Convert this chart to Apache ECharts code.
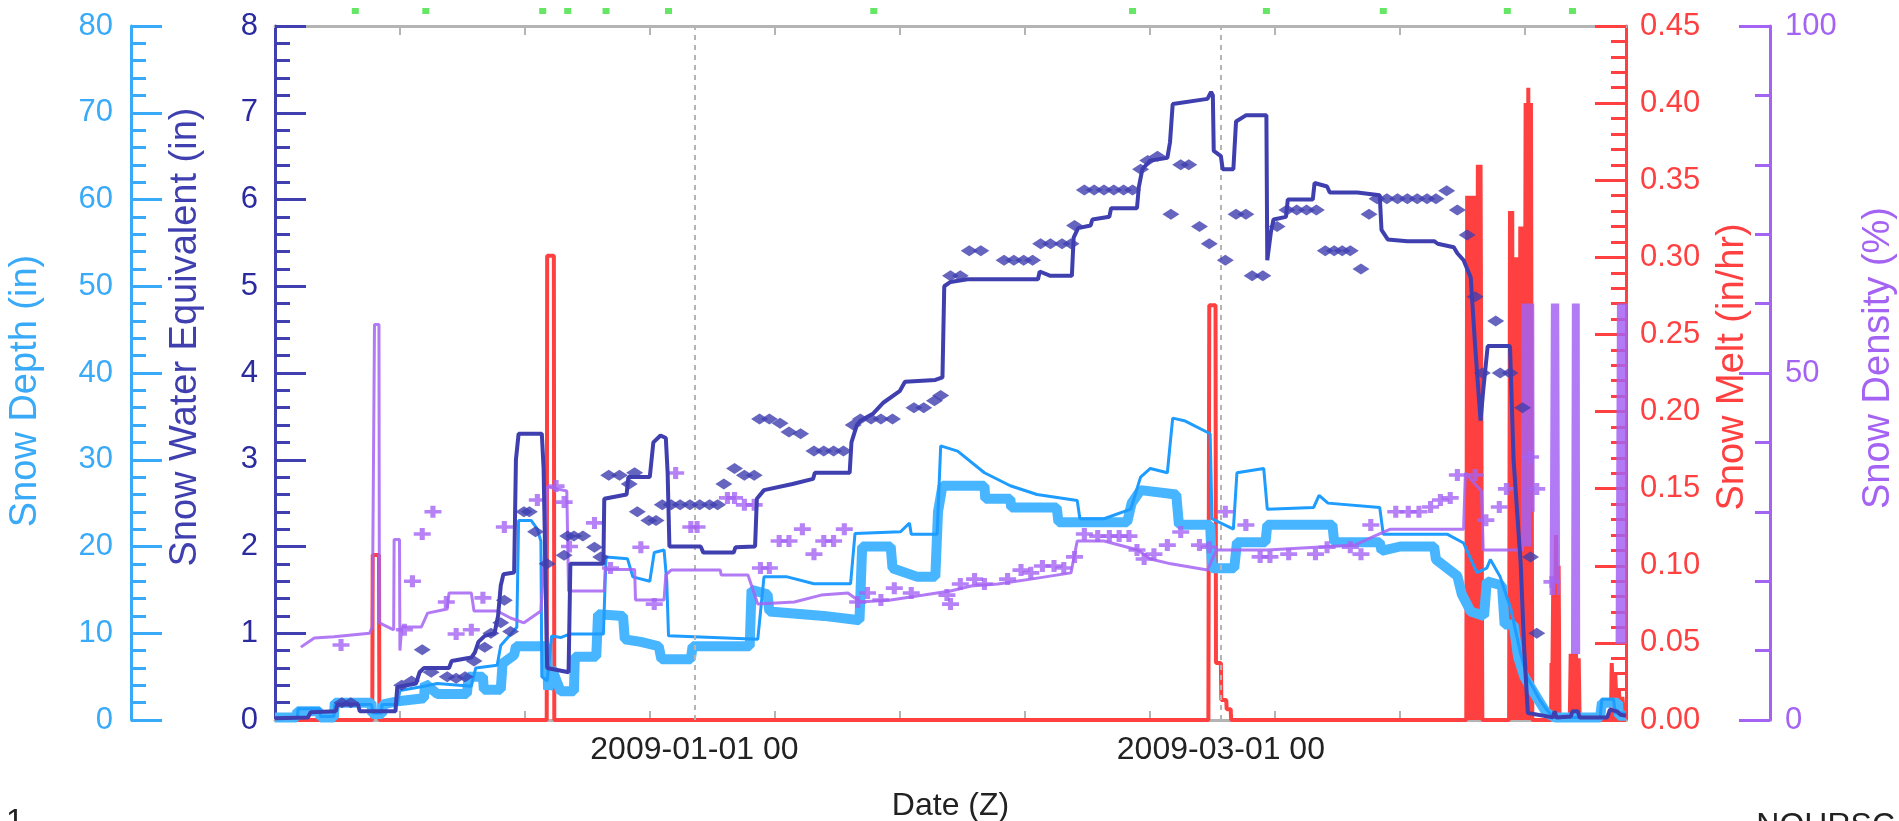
<!DOCTYPE html>
<html>
<head>
<meta charset="utf-8">
<title>Snow station</title>
<script src="https://cdn.jsdelivr.net/npm/echarts@6.0.0/dist/echarts.min.js"></script>
<style>
  html, body { margin: 0; padding: 0; background: #fff; }
  #chart { width: 1899px; height: 821px; }
</style>
</head>
<body>
<div id="chart"></div>
<script>
// time is in days since 2008-11-15 00Z
var xTickDays = [14, 28, 42, 56, 70, 84, 98, 112, 126, 140]
var xLabelDays = [47, 106]
var xLabels = ['2009-01-01 00', '2009-03-01 00']

// snow water equivalent (in), hourly sensor
var sweLine = [[0,0.02],[3.7,0.03],[4.0,0.09],[6.8,0.1],[7.0,0.18],[9.3,0.18],[9.5,0.1],[13.5,0.1],[13.7,0.38],[15.8,0.42],[16.2,0.55],[16.7,0.6],[19.5,0.6],[19.8,0.68],[22.0,0.72],[22.4,0.78],[22.8,0.9],[23.5,0.97],[24.6,1.0],[25.0,1.2],[25.3,1.55],[25.6,1.68],[26.8,1.7],[27.0,3.0],[27.3,3.3],[29.9,3.3],[30.1,2.9],[30.5,0.6],[32.9,0.55],[33.1,1.8],[36.8,1.8],[36.9,2.55],[39.4,2.6],[39.6,2.8],[42.0,2.8],[42.4,3.2],[43.2,3.28],[43.8,3.25],[44.0,2.85],[44.2,2.0],[47.7,2.0],[48.0,1.93],[51.4,1.93],[51.6,1.99],[53.8,2.0],[54.0,2.55],[54.8,2.65],[58.0,2.72],[60.3,2.78],[60.5,2.85],[64.4,2.85],[64.6,3.2],[65.2,3.4],[65.6,3.45],[67.0,3.53],[68.2,3.66],[70.0,3.79],[70.6,3.9],[74.0,3.92],[74.8,3.95],[75.0,5.0],[75.7,5.05],[77.6,5.08],[85.5,5.08],[85.7,5.17],[86.9,5.12],[89.3,5.12],[89.5,5.56],[90.0,5.67],[91.4,5.7],[91.6,5.77],[93.5,5.8],[93.7,5.9],[96.6,5.9],[96.8,6.14],[97.2,6.35],[98.1,6.45],[100.0,6.48],[100.3,6.66],[100.6,7.1],[104.5,7.16],[104.9,7.24],[105.1,7.2],[105.2,6.56],[106.0,6.5],[106.2,6.35],[107.4,6.35],[107.7,6.9],[108.8,6.97],[111.1,6.97],[111.2,5.3],[111.6,5.62],[111.9,5.77],[113.3,5.8],[113.5,6.0],[116.3,6.0],[116.5,6.19],[117.9,6.15],[118.2,6.08],[121.3,6.08],[123.8,6.05],[124.0,5.65],[124.7,5.54],[126.9,5.52],[129.9,5.52],[130.3,5.49],[132.1,5.45],[132.5,5.38],[133.2,5.3],[134.0,5.1],[134.5,4.3],[135.1,3.45],[135.4,3.8],[135.9,4.31],[138.4,4.31],[138.8,3.0],[139.6,1.8],[140.0,0.8],[140.4,0.08],[143.2,0.03],[143.4,0.1],[143.6,0.03],[145.2,0.04],[145.4,0.1],[146.0,0.1],[146.2,0.03],[149.3,0.03],[149.6,0.12],[150.4,0.1],[150.8,0.06],[151.4,0.05]]

// snow water equivalent (in), daily observation
var sweObs = [[7.5,0.2],[8.5,0.2],[14.2,0.4],[15.3,0.45],[16.5,0.81],[17.5,0.55],[19.3,0.5],[20.3,0.48],[21.3,0.5],[22.3,0.68],[23.5,0.84],[24.2,1.0],[25.3,1.12],[25.7,1.38],[26.4,1.02],[27.9,2.4],[28.5,2.4],[29.2,2.17],[30.5,1.8],[32.4,1.9],[32.8,2.12],[33.5,2.12],[34.5,2.12],[35.8,1.99],[36.5,1.88],[37.4,2.82],[38.6,2.82],[39.7,2.72],[40.3,2.85],[40.6,2.4],[41.9,2.3],[42.7,2.3],[43.4,2.48],[44.4,2.48],[45.4,2.48],[46.5,2.48],[47.6,2.48],[48.7,2.48],[49.6,2.48],[50.3,2.72],[51.5,2.9],[52.6,2.82],[53.7,2.82],[54.3,3.47],[55.4,3.47],[56.6,3.42],[57.6,3.32],[58.9,3.3],[60.4,3.1],[61.5,3.1],[62.6,3.1],[63.7,3.1],[64.8,3.4],[65.6,3.47],[66.8,3.47],[67.9,3.47],[69.2,3.47],[71.6,3.6],[72.7,3.6],[73.9,3.68],[74.6,3.74],[75.7,5.12],[76.8,5.12],[77.8,5.41],[79.1,5.41],[81.7,5.3],[82.8,5.3],[83.9,5.3],[84.9,5.3],[85.8,5.49],[86.9,5.49],[88.2,5.49],[89.2,5.49],[89.6,5.7],[90.7,6.11],[91.8,6.11],[92.9,6.11],[94.0,6.11],[95.1,6.11],[96.1,6.11],[97.0,6.35],[97.8,6.45],[98.9,6.5],[100.4,5.83],[101.5,6.4],[102.4,6.4],[103.6,5.69],[104.7,5.49],[106.5,5.3],[107.7,5.83],[108.8,5.83],[109.5,5.12],[110.7,5.12],[112.3,5.69],[113.4,5.88],[114.5,5.88],[115.6,5.88],[116.7,5.88],[117.7,5.41],[118.7,5.41],[119.6,5.41],[120.5,5.41],[121.7,5.2],[122.6,5.83],[123.5,6.01],[124.6,6.01],[125.8,6.01],[126.9,6.01],[128.0,6.01],[129.1,6.01],[130.1,6.01],[131.3,6.1],[132.5,5.88],[133.6,5.59],[134.5,4.88],[135.3,4.0],[136.8,4.6],[137.3,4.0],[138.4,4.0],[139.8,3.6],[140.7,1.88],[141.4,1.0]]

// snow depth (in), thin sensor trace
var sdLine = [[0,0.2],[2.5,0.3],[2.6,1.3],[5.0,1.3],[5.1,0.4],[6.6,0.4],[6.7,1.8],[10.8,1.8],[11.0,0.8],[11.9,0.8],[12.0,1.8],[13.7,1.8],[14.0,3.4],[16.7,3.9],[18.2,4.2],[22.0,3.9],[22.5,6.0],[24.9,6.3],[25.3,8.6],[27.1,10.7],[27.3,23.0],[28.7,23.0],[29.4,22.0],[29.8,20.6],[29.9,5.0],[30.5,4.5],[31.0,9.7],[32.0,9.5],[33.0,9.9],[36.8,9.9],[37.1,18.8],[39.5,18.6],[40.1,16.5],[42.0,16.0],[42.5,19.3],[43.6,19.6],[43.9,16.0],[44.1,9.7],[54.1,9.3],[54.8,16.5],[57.4,16.5],[60.4,15.7],[64.5,15.7],[65.0,21.5],[70.1,21.7],[71.1,22.7],[71.3,21.4],[74.2,21.4],[74.6,31.6],[76.5,31.0],[79.5,28.5],[82.4,27.0],[85.4,26.0],[89.9,25.3],[90.2,23.2],[92.9,23.2],[95.9,24.3],[97.0,28.0],[98.1,29.0],[100.0,28.5],[100.6,34.8],[101.9,34.5],[104.8,33.0],[105.0,23.2],[107.4,22.0],[107.8,28.5],[110.8,29.0],[111.2,24.3],[116.4,24.5],[117.0,25.9],[118.0,25.0],[123.8,24.5],[124.2,21.4],[131.4,21.4],[133.2,20.4],[134.7,17.0],[135.8,17.5],[136.2,18.5],[137.3,16.5],[138.5,12.8],[139.6,7.6],[140.3,5.0],[141.8,2.2],[142.5,1.2],[143.3,0.3],[148.5,0.3],[148.7,2.4],[150.0,2.4],[150.2,0.8],[151.4,0.8]]

// snow depth (in), wide daily band
var sdBand = [[0,0.3],[2.4,0.3],[2.5,1.0],[5.0,1.0],[5.1,0.3],[6.6,0.3],[6.7,2.0],[10.8,2.0],[10.9,0.7],[12.0,0.7],[12.1,1.8],[14.0,2.2],[16.7,2.5],[16.8,4.2],[18.2,3.0],[21.5,3.0],[21.7,5.0],[23.3,5.0],[23.4,3.5],[25.3,3.5],[25.5,6.5],[26.8,7.5],[27.0,8.5],[30.5,8.5],[30.6,3.5],[31.0,6.0],[32.0,3.3],[33.5,3.3],[33.6,7.3],[36.0,7.3],[36.2,12.2],[39.0,12.0],[39.2,9.3],[41.0,9.0],[43.0,8.5],[43.3,7.0],[46.6,7.0],[46.8,8.5],[53.2,8.5],[53.4,15.0],[55.2,14.5],[55.4,12.5],[61.5,12.0],[65.5,11.5],[65.8,20.0],[69.0,20.0],[69.2,17.5],[72.0,16.5],[74.0,16.5],[74.3,24.0],[74.8,27.0],[79.5,27.0],[79.6,25.5],[82.4,25.5],[82.5,24.5],[87.6,24.5],[87.8,22.8],[95.5,22.8],[96.0,25.0],[97.0,26.5],[101.0,26.0],[101.3,22.5],[104.8,22.5],[105.0,17.5],[107.5,17.5],[107.8,20.5],[111.0,20.5],[111.2,22.5],[118.5,22.5],[118.7,20.5],[123.8,20.5],[124.0,19.5],[126.1,20.0],[129.9,20.0],[130.1,18.5],[132.5,16.6],[133.0,14.5],[134.0,12.5],[135.5,12.0],[135.8,16.0],[137.5,15.5],[137.8,11.0],[138.8,11.0],[139.3,7.3],[140.0,5.0],[141.4,2.6],[142.5,0.8],[143.5,0.3],[148.5,0.3],[148.7,2.0],[150.5,2.0],[150.6,0.5],[151.4,0.5]]

// snow melt (in/hr)
var meltLine = [[0,0],[10.9,0],[10.95,0.107],[11.65,0.107],[11.7,0],[30.45,0],[30.5,0.301],[31.25,0.301],[31.3,0],[104.6,0],[104.7,0.269],[105.4,0.269],[105.45,0.037],[106.0,0.037],[106.05,0.013],[106.6,0.013],[106.65,0.007],[107.1,0.007],[107.15,0],[133.5,0],[133.6,0.34],[133.75,0],[133.9,0.34],[134.05,0],[134.2,0.34],[134.35,0],[134.5,0.34],[134.65,0],[134.8,0.36],[134.95,0],[135.1,0.36],[135.25,0.36],[135.3,0],[138.3,0],[138.4,0.33],[138.5,0],[138.65,0.33],[138.8,0],[138.95,0.30],[139.1,0],[139.25,0.30],[139.4,0],[139.55,0.32],[139.7,0],[139.85,0.32],[140.0,0],[140.15,0.40],[140.3,0],[140.45,0.41],[140.6,0],[140.75,0.40],[140.9,0],[143.0,0],[143.05,0.037],[143.1,0],[143.25,0.09],[143.4,0],[143.55,0.12],[143.7,0],[143.85,0.1],[143.95,0],[145.1,0],[145.2,0.043],[145.35,0],[145.5,0.043],[145.65,0],[145.8,0.043],[145.95,0],[146.1,0.04],[146.2,0],[149.7,0],[149.8,0.037],[150.0,0],[150.2,0.03],[150.4,0],[150.6,0.02],[150.8,0],[151.0,0.015],[151.2,0],[151.4,0]]

// snow density (%), hourly
var densLine = [[2.9,10.5],[4.4,11.8],[6.6,12.0],[10.6,12.5],[10.9,13.4],[11.1,13.4],[11.15,57],[11.65,57],[11.7,14],[13.3,13],[13.35,26],[13.95,26],[14.0,10],[14.2,13.4],[16.4,13.4],[17.1,15.4],[19.3,16.0],[19.5,18.3],[22.0,18.3],[22.3,15.7],[24.9,15.7],[26.4,14.7],[27.9,14.0],[29.8,15.7],[30.2,24.0],[30.5,33.6],[32.7,33.0],[32.9,18.6],[36.9,18.6],[37.0,21.7],[40.3,21.7],[40.4,17.3],[43.6,17.3],[43.8,20.9],[44.4,21.6],[49.9,21.6],[50.0,20.9],[53.0,20.9],[54.1,16.7],[58.2,17.0],[61.2,18.0],[64.2,18.3],[65.6,17.0],[69.0,17.3],[72.7,18.0],[75.7,18.6],[78.0,19.3],[81.0,19.6],[84.7,20.3],[89.2,21.2],[89.9,25.8],[92.9,25.8],[96.7,24.5],[98.1,23.2],[100.4,22.5],[104.5,21.6],[105.5,24.5],[111.2,24.5],[121.0,25.2],[123.2,26.5],[125.0,27.5],[133.2,27.5],[133.4,35.6],[135.2,33.0],[135.4,24.5],[139.8,24.5],[139.85,60],[140.0,25],[140.15,60],[140.3,25],[140.45,60],[140.6,25],[140.75,60],[140.85,48],[140.95,60],[141.0,30],[141.05,null],[143.0,18],[143.15,60],[143.3,18],[143.45,60],[143.6,20],[143.75,60],[143.85,18],[143.9,null],[145.4,9.5],[145.5,60],[145.65,9.5],[145.8,60],[145.95,9.5],[146.05,60],[146.1,9.5],[146.15,null],[150.4,11],[150.55,60],[150.7,11],[150.85,60],[151.0,11],[151.15,60],[151.3,11],[151.4,60]]

// snow density (%), daily observation
var densObs = [[7.4,10.8],[14.5,13],[15.4,20],[16.5,26.8],[17.7,30],[19.2,17],[20.3,12.4],[22.0,13],[23.3,17.6],[25.7,27.8],[29.4,31.7],[31.5,33.7],[32.4,31.4],[33.0,25],[35.8,28.4],[37.6,21.9],[41.0,24.9],[42.5,16.7],[44.9,35.6],[46.6,27.8],[47.3,27.8],[50.7,32],[51.5,32],[52.6,31],[53.7,31],[54.4,21.9],[55.4,21.9],[56.5,25.8],[57.6,25.8],[59.1,27.5],[60.4,23.9],[61.5,25.8],[62.6,25.8],[63.8,27.5],[65.3,17],[66.4,18.3],[67.9,17.3],[69.4,19],[71.3,18.3],[75.3,18],[75.7,16.7],[76.8,19.6],[78.4,20.3],[79.5,19.6],[82.1,20.3],[83.6,21.6],[84.7,21.2],[86.0,22.2],[87.3,22.2],[88.4,21.9],[89.6,23.5],[90.7,26.8],[92.2,26.5],[93.5,26.5],[94.6,26.5],[95.7,26.5],[96.6,24.5],[97.4,23.2],[98.5,23.9],[100.0,25.2],[101.5,27.1],[103.6,25.2],[104.7,24.9],[106.5,30],[108.8,28.1],[110.4,23.5],[111.5,23.5],[113.6,23.9],[116.6,23.9],[117.9,24.9],[120.5,24.9],[121.7,23.9],[122.8,28.1],[125.6,30],[127.0,30],[128.2,30],[129.5,30.7],[130.6,31.7],[131.7,32],[132.5,35.3],[134.5,35.3],[135.7,28.8],[137.2,30.7],[138.0,33.3],[140.7,37.9],[141.4,33.3],[143.1,19.9]]

// flags above the plot
var flagDays = [9.0, 16.9, 30.0, 32.8, 37.1, 44.1, 67.1, 96.1, 111.1, 124.2, 138.1, 145.4]

var FONT = 'Liberation Sans'
var SWE_C = '#3f3fb0'
var SD_C = '#38aaf8'
var MELT_C = '#ff4040'
var DENS_C = '#a463f2'
var GRAY = '#b4b4b4'
var PLUS = 'path://M0,3.5H10V6.5H0Z M3.5,0H6.5V10H3.5Z'

function yAxisOf(opt) {
  return {
    type: 'value',
    gridIndex: 0,
    position: opt.position,
    offset: opt.offset,
    min: 0,
    max: opt.max,
    interval: opt.interval,
    name: opt.name,
    nameLocation: 'middle',
    nameRotate: 90,
    nameGap: opt.nameGap,
    // padding nudges the rotated title along the axis
    nameTextStyle: { color: opt.color, fontFamily: FONT, fontSize: 38, padding: opt.namePad },
    axisLine: { show: true, onZero: false, lineStyle: { color: opt.color, width: 3 } },
    axisTick: { show: true, inside: true, length: 31, lineStyle: { color: opt.color, width: 3 } },
    minorTick: { show: true, splitNumber: opt.minor, length: 15, lineStyle: { color: opt.color, width: 3 } },
    axisLabel: {
      color: opt.labelColor || opt.color,
      fontFamily: FONT,
      fontSize: 31,
      margin: opt.margin,
      formatter: opt.formatter
    },
    splitLine: { show: false },
    minorSplitLine: { show: false }
  }
}

var chart = echarts.init(document.getElementById('chart'))

chart.setOption({
  animation: false,
  backgroundColor: '#ffffff',
  grid: [
    { left: 275, right: 273, top: 26, bottom: 101, outerBoundsMode: 'none' },
    { left: 275, right: 273, top: 4, height: 14, outerBoundsMode: 'none' }
  ],
  xAxis: [
    {
      type: 'value',
      gridIndex: 0,
      position: 'bottom',
      min: 0,
      max: 151.4,
      name: 'Date (Z)',
      nameLocation: 'middle',
      nameGap: 70,
      nameTextStyle: { color: '#222', fontFamily: FONT, fontSize: 32 },
      axisLine: { show: true, onZero: false, lineStyle: { color: GRAY, width: 3 } },
      axisTick: { show: true, inside: true, length: 9, customValues: xTickDays, lineStyle: { color: GRAY, width: 2 } },
      axisLabel: {
        color: '#222',
        fontFamily: FONT,
        fontSize: 32,
        margin: 14,
        customValues: xLabelDays,
        formatter: function(v) {
          var i = xLabelDays.indexOf(v)
          return i >= 0 ? xLabels[i] : ''
        }
      },
      splitLine: { show: false }
    },
    {
      type: 'value',
      gridIndex: 0,
      position: 'top',
      min: 0,
      max: 151.4,
      axisLine: { show: true, onZero: false, lineStyle: { color: GRAY, width: 3 } },
      axisTick: { show: true, inside: true, length: 9, customValues: xTickDays, lineStyle: { color: GRAY, width: 2 } },
      axisLabel: { show: false },
      splitLine: { show: false }
    },
    { type: 'value', gridIndex: 1, min: 0, max: 151.4, show: false }
  ],
  yAxis: [
    yAxisOf({ position: 'left', offset: 0, max: 8, interval: 1, minor: 5, color: SWE_C, labelColor: '#2b2b9f',
      name: 'Snow Water Equivalent (in)', nameGap: 70, namePad: [0, 0, 0, 72], margin: 17 }),
    yAxisOf({ position: 'left', offset: 144, max: 80, interval: 10, minor: 5, color: SD_C,
      name: 'Snow Depth (in)', nameGap: 86, namePad: [0, 36, 0, 0], margin: 18 }),
    yAxisOf({ position: 'right', offset: 0, max: 0.45, interval: 0.05, minor: 5, color: MELT_C,
      name: 'Snow Melt (in/hr)', nameGap: 88, namePad: [0, 0, 0, 12], margin: 14,
      formatter: function(v) { return v.toFixed(2) } }),
    yAxisOf({ position: 'right', offset: 144, max: 100, interval: 50, minor: 5, color: DENS_C,
      name: 'Snow Density (%)', nameGap: 90, namePad: [0, 0, 0, 30], margin: 15 }),
    { type: 'value', gridIndex: 1, min: 0, max: 1, show: false }
  ],
  series: [
    {
      name: 'Snow Melt',
      type: 'line',
      xAxisIndex: 0,
      yAxisIndex: 2,
      data: meltLine,
      showSymbol: false,
      lineStyle: { color: MELT_C, width: 4 },
      z: 2,
      markLine: {
        silent: true,
        symbol: 'none',
        label: { show: false },
        lineStyle: { color: GRAY, type: [5, 5], width: 2 },
        data: xLabelDays.map(function(d) { return { xAxis: d } })
      }
    },
    {
      name: 'Snow Depth band',
      type: 'line',
      yAxisIndex: 1,
      data: sdBand,
      showSymbol: false,
      lineStyle: { color: '#47b5ff', width: 10 },
      z: 3
    },
    {
      name: 'Snow Depth',
      type: 'line',
      yAxisIndex: 1,
      data: sdLine,
      showSymbol: false,
      lineStyle: { color: '#1e9cff', width: 3 },
      z: 4
    },
    {
      name: 'Snow Density',
      type: 'line',
      yAxisIndex: 3,
      data: densLine,
      showSymbol: false,
      connectNulls: false,
      lineStyle: { color: DENS_C, width: 3, opacity: 0.85 },
      z: 5
    },
    {
      name: 'Snow Density obs',
      type: 'scatter',
      yAxisIndex: 3,
      data: densObs,
      symbol: PLUS,
      symbolSize: [17, 12],
      symbolKeepAspect: false,
      itemStyle: { color: DENS_C },
      z: 6
    },
    {
      name: 'Snow Water Equivalent',
      type: 'line',
      yAxisIndex: 0,
      data: sweLine,
      showSymbol: false,
      lineStyle: { color: SWE_C, width: 4 },
      z: 7
    },
    {
      name: 'Snow Water Equivalent obs',
      type: 'scatter',
      yAxisIndex: 0,
      data: sweObs,
      symbol: 'diamond',
      symbolSize: [17, 11],
      itemStyle: { color: SWE_C },
      z: 8
    },
    {
      name: 'flags',
      type: 'scatter',
      xAxisIndex: 2,
      yAxisIndex: 4,
      data: flagDays.map(function(d) { return [d, 0.5] }),
      symbol: 'rect',
      symbolSize: [7, 6],
      itemStyle: { color: '#3ee03e' }
    }
  ],
  graphic: [
    { type: 'text', left: 6, top: 806, style: { text: '1', fill: '#222', font: '32px "Liberation Sans"' } },
    { type: 'text', right: 4, top: 810, style: { text: 'NOHRSC', fill: '#222', font: '32px "Liberation Sans"' } }
  ]
})
</script>
</body>
</html>
